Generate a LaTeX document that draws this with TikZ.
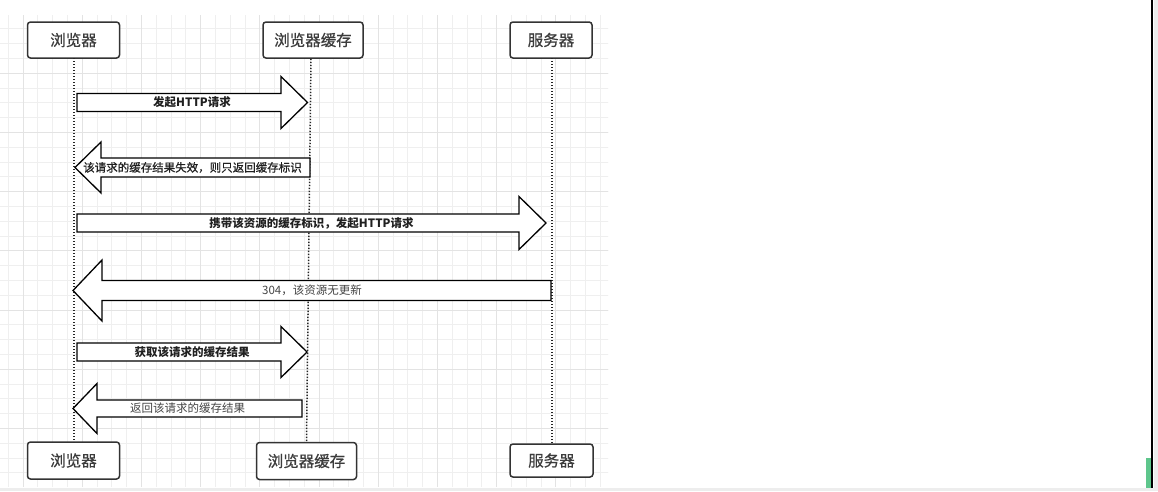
\documentclass[tikz,border=0pt]{standalone}
\usepackage{fontspec}
\setmainfont{Noto Sans CJK SC}
\newfontfamily\medfont{Noto Sans CJK SC}[FakeBold=0.7]
\definecolor{gridminor}{HTML}{EFEFEF}
\definecolor{gridmajor}{HTML}{E3E3E3}
\definecolor{boxline}{HTML}{333333}
\definecolor{boxtext}{HTML}{3C3C3C}
\definecolor{lbldark}{HTML}{202020}
\definecolor{lblgray}{HTML}{454545}
\definecolor{strip}{HTML}{EDEDED}
\definecolor{greenbar}{HTML}{5EC68C}
\tikzset{
  actor/.style={draw=boxline, line width=1.5pt, rounded corners=3pt, fill=white,
    text=boxtext, font=\medfont\fontsize{15.5}{17}\selectfont, inner sep=0pt},
  lifeline/.style={line width=1.5pt, dash pattern=on 1.4pt off 1.6pt, black!85},
  blockarrow/.style={draw=black, line width=1.3pt, fill=white, line join=miter},
  lblbold/.style={font=\fontsize{11.5}{12}\selectfont\bfseries, text=lbldark, inner sep=0pt},
  lblmed/.style={font=\medfont\fontsize{11.5}{12}\selectfont, text=lbldark, inner sep=0pt},
  lblgr/.style={font=\fontsize{11.5}{12}\selectfont, text=lblgray, inner sep=0pt}
}
% #1 tail x, #2 head-base x, #3 tip x, #4 y centre, #5 body half, #6 head half
\newcommand\blockarr[6]{%
  \draw[blockarrow] (#1,#4-#5) -- (#2,#4-#5) -- (#2,#4-#6) -- (#3,#4)
    -- (#2,#4+#6) -- (#2,#4+#5) -- (#1,#4+#5) -- cycle;}
\begin{document}
\begin{tikzpicture}[x=1pt,y=-1pt]
\useasboundingbox (0,0) rectangle (1158,491);
\fill[white] (0,0) rectangle (1158,491);
% grid
\begin{scope}
\clip (0,15) rectangle (608,486);
\foreach \i in {0,...,41} {
  \draw[gridminor, line width=0.7pt] ({8.1+14.8*\i},0) -- ({8.1+14.8*\i},491);
}
\foreach \i in {0,...,32} {
  \draw[gridminor, line width=0.7pt] (0,{14+14.8*\i}) -- (620,{14+14.8*\i});
}
\foreach \i in {0,...,10} {
  \draw[gridmajor, line width=0.8pt] ({22.9+59.2*\i},0) -- ({22.9+59.2*\i},491);
}
\foreach \i in {0,...,8} {
  \draw[gridmajor, line width=0.8pt] (0,{14+59.2*\i}) -- (620,{14+59.2*\i});
}
\end{scope}
% screen chrome
\fill[strip] (0,487.5) rectangle (1158,491);
\fill[strip] (1153.5,0) rectangle (1158,491);
\draw[black, line width=2.6pt] (1152,0) -- (1152,488);
\fill[greenbar] (1145.5,458) rectangle (1150.8,488);
% actors
\node[actor, minimum width=92pt, minimum height=36pt] (bT) at (73.5,40) {浏览器};
\node[actor, minimum width=100pt, minimum height=36pt] (cT) at (313,40) {浏览器缓存};
\node[actor, minimum width=82pt, minimum height=36pt] (sT) at (551,40) {服务器};
\node[actor, minimum width=92pt, minimum height=37pt] (bB) at (73.5,460.5) {浏览器};
\node[actor, minimum width=100pt, minimum height=37pt] (cB) at (306.5,461) {浏览器缓存};
\node[actor, minimum width=83pt, minimum height=33pt] (sB) at (551.5,460.5) {服务器};
% lifelines
\draw[lifeline] (74,58) coordinate (bL1) -- (74,442) coordinate (bL2);
\draw[lifeline] (cT.south) ++(-2,0) -- (cB.north);
\draw[lifeline] (552,58) coordinate (sL1) -- (552,444) coordinate (sL2);
% messages
\blockarr{77}{281}{307.5}{102.5}{9}{26}
\node[lblbold] (m1) at (192,102.5) {发起HTTP请求};
\blockarr{310}{101}{75}{167.5}{9.5}{25.5}
\node[lblmed] (m2) at (192.5,167.5) {该请求的缓存结果失效，则只返回缓存标识};
\blockarr{77}{519}{546}{223}{9}{26.5}
\node[lblbold] (m3) at (311.5,223) {携带该资源的缓存标识，发起HTTP请求};
\blockarr{551}{102}{73}{290.5}{10}{30.5}
\node[lblgr] (m4) at (312,290.5) {304，该资源无更新};
\blockarr{77}{281}{307}{352}{9}{25.5}
\node[lblbold] (m5) at (192,352) {获取该请求的缓存结果};
\blockarr{302}{97}{73}{408.5}{8.5}{25}
\node[lblgr] (m6) at (187.5,408.5) {返回该请求的缓存结果};
\end{tikzpicture}
\end{document}
